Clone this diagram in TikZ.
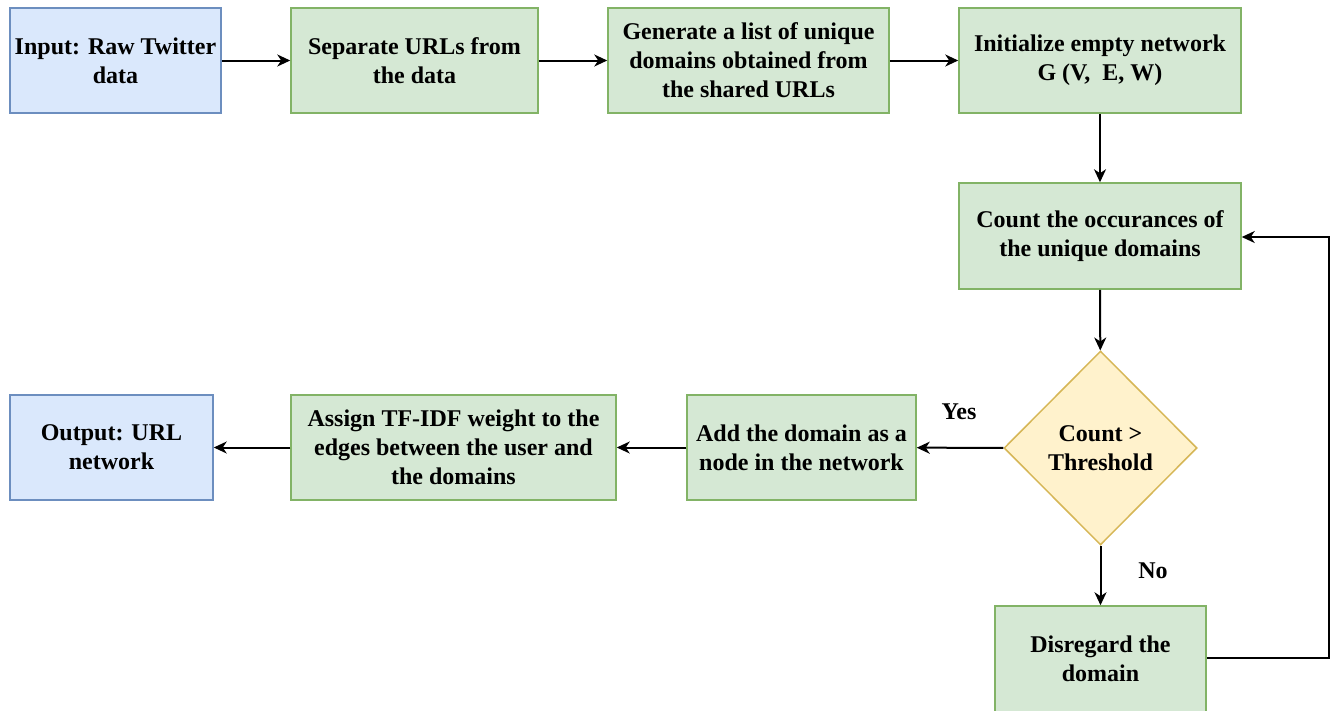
\documentclass[tikz,border=0pt]{standalone}
\usepackage{fontspec}
\setmainfont{Liberation Serif}[BoldFont={Liberation Serif Bold}]
\usetikzlibrary{shapes.geometric,arrows.meta}
\definecolor{bluefill}{HTML}{DAE8FC}
\definecolor{bluedraw}{HTML}{6C8EBF}
\definecolor{greenfill}{HTML}{D5E8D4}
\definecolor{greendraw}{HTML}{82B366}
\definecolor{yellowfill}{HTML}{FFF2CC}
\definecolor{yellowdraw}{HTML}{D6B656}
\tikzset{
  txt/.style={font=\fontsize{24}{29}\selectfont\bfseries},
  box/.style={draw=greendraw, fill=greenfill, line width=1.5pt, inner sep=0pt,
    txt, align=center},
  bluebox/.style={box, draw=bluedraw, fill=bluefill},
  arr/.style={line width=2pt, -{Stealth[length=13pt,width=12pt,inset=4pt]}},
  lbl/.style={txt, inner sep=0pt},
}
\begin{document}
\begin{tikzpicture}[x=1pt,y=-1pt]
\useasboundingbox (0,0) rectangle (1334,710);
\clip (0,0) rectangle (1334,710);
\node[bluebox, minimum width=211pt, minimum height=105pt] (in) at (115.5,60.5) {Input: Raw Twitter\\data};
\node[box, minimum width=247pt, minimum height=105pt] (sep) at (414.5,60.5) {Separate URLs from\\the data};
\node[box, minimum width=281pt, minimum height=105pt] (gen) at (748.5,60.5) {Generate a list of unique\\domains obtained from\\the shared URLs};
\node[box, minimum width=282pt, minimum height=105pt] (init) at (1100,60.5) {Initialize empty network\\G (V,~ E, W)};
\node[box, minimum width=282pt, minimum height=106pt] (cnt) at (1100,236) {Count the occurances of\\the unique domains};
\node[diamond, draw=yellowdraw, fill=yellowfill, line width=1.5pt, inner sep=0pt,
  minimum width=193pt, minimum height=194pt, txt, align=center] (dec) at (1100.5,448) {Count >\\Threshold};
\node[box, minimum width=211pt, minimum height=106pt] (dis) at (1100.5,659) {Disregard the\\domain};
\node[box, minimum width=229pt, minimum height=105pt] (add) at (801.5,447.5) {Add the domain as a\\node in the network};
\node[box, minimum width=325pt, minimum height=105pt] (asg) at (453.5,447.5) {Assign TF-IDF weight to the\\edges between the user and\\the domains};
\node[bluebox, minimum width=203pt, minimum height=105pt] (out) at (111.5,447.5) {Output: URL\\network};
\draw[arr] (in) -- (sep);
\draw[arr] (sep) -- (gen);
\draw[arr] (gen) -- (init);
\draw[arr] (init) -- (cnt);
\draw[arr] (cnt) -- (dec);
\draw[arr] (dec) -- (add);
\draw[arr] (add) -- (asg);
\draw[arr] (asg) -- (out);
\draw[arr] (dec) -- (dis);
\coordinate (c1) at (1329,658);
\coordinate (c2) at (1329,237);
\draw[arr] (dis.east |- c1) -- (c1) -- (c2) -- (cnt.east |- c2);
\node[lbl] (yes) at (959,412) {Yes};
\node[lbl] (no) at (1153,571) {No};
\end{tikzpicture}
\end{document}
